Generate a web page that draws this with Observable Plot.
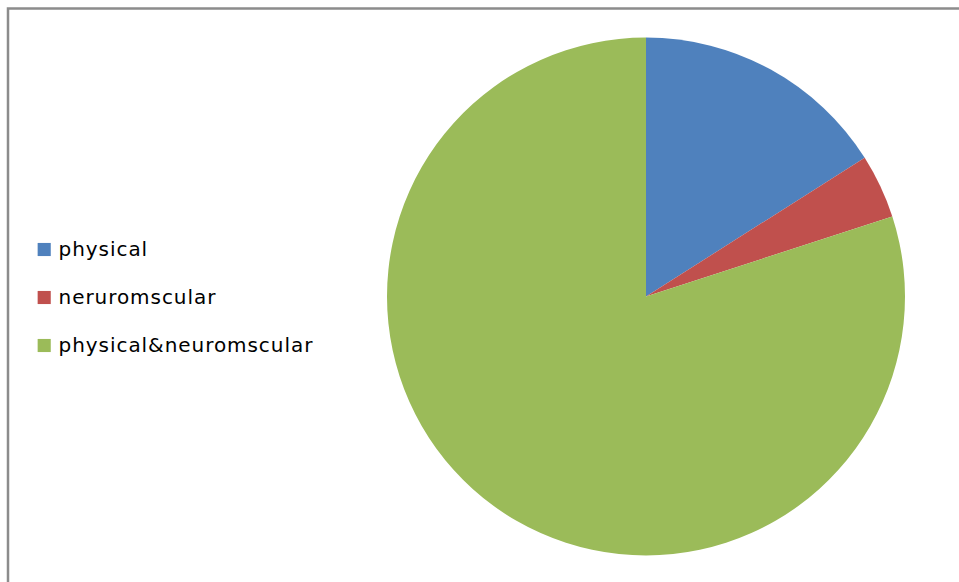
<!DOCTYPE html>
<html>
<head>
<meta charset="utf-8">
<script src="https://cdn.jsdelivr.net/npm/d3@7"></script>
<script src="https://cdn.jsdelivr.net/npm/@observablehq/plot@0.6"></script>
<style>
  html, body { margin: 0; padding: 0; background: #fff; overflow: hidden; }
  svg text { letter-spacing: 0.95px; }
</style>
</head>
<body>
<div id="chart"></div>
<script>
const categories = ["physical", "neruromscular", "physical&neuromscular"];
const values = [16, 4, 80];
const colors = ["#4F81BD", "#C0504D", "#9BBB59"];

const data = categories.map((c, i) => ({category: c, value: values[i]}));

function pieMark(index, scales, vals, dimensions) {
  const cx = 646, cy = 296.5, r = 259;
  const arcs = d3.pie().sort(null).value(d => d.value)(data);
  const arc = d3.arc().innerRadius(0).outerRadius(r);
  const g = d3.create("svg:g").attr("transform", `translate(${cx},${cy})`);
  g.selectAll("path")
    .data(arcs)
    .join("path")
    .attr("d", arc)
    .attr("fill", d => scales.color(d.data.category));
  return g.node();
}

const chart = Plot.plot({
  width: 959,
  height: 582,
  margin: 0,
  style: {background: "#fff", overflow: "hidden"},
  y: {type: "point", domain: categories, range: [249, 345.5], padding: 0, axis: null},
  color: {domain: categories, range: colors},
  marks: [
    pieMark,
    Plot.dot(categories, {
      y: d => d, frameAnchor: "left", dx: 43.7,
      symbol: "square", r: 7.4, fill: d => d, stroke: "none"
    }),
    Plot.text(categories, {
      y: d => d, text: d => d, frameAnchor: "left", dx: 58,
      textAnchor: "start", fill: "#000",
      fontFamily: "DejaVu Sans", fontSize: 20
    }),
    Plot.frame({
      stroke: "#8c8c8c", strokeWidth: 2.5,
      insetLeft: 7.5, insetTop: 8, insetRight: -20, insetBottom: -20
    })
  ]
});

document.getElementById("chart").appendChild(chart);
</script>
</body>
</html>
